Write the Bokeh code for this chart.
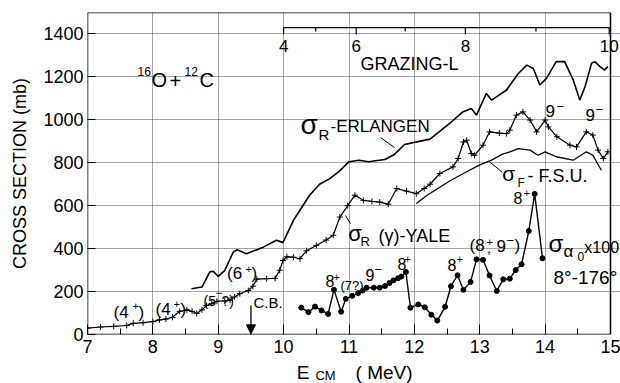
from bokeh.plotting import figure
from bokeh.layouts import column
from bokeh.models import Label, Arrow, NormalHead, FixedTicker, Range1d
from bokeh.embed import file_html
from bokeh.resources import INLINE

# ---------------- data ----------------
erl_E = [8.59, 8.75, 8.87, 8.92, 9.00, 9.10, 9.23, 9.29, 9.43, 9.69, 9.89, 9.99,
         10.15, 10.40, 10.55, 10.70, 10.85, 11.00, 11.15, 11.30, 11.55, 11.70,
         11.85, 12.00, 12.24, 12.54, 12.74, 12.87, 12.95, 13.10, 13.18, 13.41,
         13.59, 13.72, 13.82, 13.92, 14.02, 14.17, 14.30, 14.43, 14.53, 14.61,
         14.71, 14.76, 14.84, 14.91, 14.96]
erl_sigma = [213, 221, 291, 295, 271, 299, 384, 395, 376, 407, 439, 428,
             532, 650, 700, 725, 760, 805, 812, 805, 815, 840,
             885, 895, 910, 983, 1037, 1053, 1022, 1123, 1092, 1139,
             1216, 1255, 1239, 1162, 1193, 1271, 1271, 1185, 1092, 1154,
             1263, 1271, 1248, 1232, 1248]

yale_E = [7.00, 7.20, 7.40, 7.60, 7.70, 7.85, 8.00, 8.10, 8.20, 8.30, 8.41, 8.52,
          8.60, 8.67, 8.75, 8.82, 8.90, 8.98, 9.10, 9.18, 9.25, 9.33, 9.46, 9.53,
          9.59, 9.74, 9.87, 9.94, 9.99, 10.05, 10.15, 10.25, 10.35, 10.50, 10.65,
          10.76, 10.86, 10.98, 11.09, 11.22, 11.35, 11.47, 11.60, 11.73, 11.88,
          12.03, 12.15, 12.24, 12.39, 12.59, 12.67, 12.75, 12.80, 12.87, 12.92,
          13.05, 13.15, 13.30, 13.41, 13.46, 13.56, 13.66, 13.77, 13.87, 14.00,
          14.05, 14.18, 14.38, 14.48, 14.63, 14.73, 14.81, 14.89, 14.96]
yale_sigma = [30, 35, 38, 42, 52, 55, 60, 68, 72, 80, 108, 115,
              108, 98, 115, 135, 145, 155, 157, 160, 175, 190, 205, 225,
              258, 260, 262, 299, 345, 362, 360, 353, 390, 415, 440,
              462, 547, 600, 649, 625, 620, 617, 607, 680, 668,
              656, 680, 700, 750, 781, 820, 897, 905, 843, 835,
              882, 944, 938, 936, 952, 1022, 1037, 999, 944, 999,
              967, 921, 882, 874, 944, 929, 859, 820, 851]

fsu_E = [12.03, 12.20, 12.36, 12.54, 12.75, 13.00, 13.18, 13.35, 13.46, 13.59,
         13.77, 13.89, 14.00, 14.17, 14.43, 14.63, 14.73, 14.86]
fsu_sigma = [610, 650, 680, 715, 750, 790, 812, 840, 851, 866,
             859, 835, 851, 828, 812, 851, 835, 765]

alpha_E = [10.27, 10.38, 10.48, 10.58, 10.68, 10.77, 10.88, 10.95, 11.05, 11.14,
           11.21, 11.27, 11.38, 11.47, 11.55, 11.62, 11.68, 11.75, 11.80, 11.87,
           11.94, 12.06, 12.16, 12.26, 12.35, 12.47, 12.56, 12.66, 12.75, 12.86,
           12.95, 13.05, 13.15, 13.26, 13.36, 13.46, 13.55, 13.64, 13.75, 13.84,
           13.96]
alpha_sigma = [125, 104, 130, 112, 96, 208, 106, 166, 180, 193,
               205, 218, 218, 218, 226, 240, 252, 262, 270, 291,
               125, 140, 127, 92, 65, 129, 225, 276, 208, 245,
               350, 348, 275, 203, 257, 260, 300, 327, 482, 655,
               355]

x_ticks = [7, 8, 9, 10, 11, 12, 13, 14, 15]
y_ticks = [0, 200, 400, 600, 800, 1000, 1200, 1400]
y_top = 1500

grazing_L = [4, 5, 6, 7, 8, 9, 10]
grazing_L_E = [10.00, 10.49, 11.11, 11.86, 12.78, 13.86, 14.98]
grazing_L_labels = [4, 6, 8, 10]

cb_energy = 9.5

FONT = "Liberation Sans"

# ---------------- layout geometry ----------------
W = 620
H_MAIN, H_TITLE = 360, 23
BL, BT, BB = 87, 12, 26
FH = H_MAIN - BT - BB                      # frame height in px
px_per_mb = FH / y_top
px_per_MeV = 65.375
x_end = x_ticks[0] + (W - BL) / px_per_MeV  # frame reaches the right page edge

xr = Range1d(x_ticks[0], x_end)

p = figure(width=W, height=H_MAIN, x_range=xr, y_range=(0, y_top),
           output_backend="svg", toolbar_location=None,
           min_border_left=BL, min_border_right=0, min_border_top=BT,
           min_border_bottom=BB)
p.background_fill_color = "white"
p.border_fill_color = "white"
p.outline_line_color = None

# box of the plot (E = 7..15, sigma = 0..1500)
xa, xb = x_ticks[0], x_ticks[-1]
p.segment(x0=[xa, xa, xa, xb], y0=[0, y_top, 0, 0], x1=[xb, xb, xa, xb], y1=[0, y_top, y_top, y_top],
          line_color="black", line_width=1.5)

p.xaxis.ticker = FixedTicker(ticks=x_ticks, minor_ticks=[t + 0.5 for t in x_ticks[:-1]])
p.xaxis.major_tick_in = 10
p.xaxis.major_tick_out = 0
p.xaxis.minor_tick_in = 6
p.xaxis.minor_tick_out = 0
p.xaxis.major_label_standoff = 5
p.xaxis.axis_line_color = None
p.xaxis.major_tick_line_color = "black"
p.xaxis.minor_tick_line_color = "black"

p.yaxis.ticker = FixedTicker(ticks=y_ticks)
p.yaxis.major_tick_in = 8
p.yaxis.major_tick_out = 0
p.yaxis.minor_tick_line_color = None
p.yaxis.major_label_standoff = 4
p.yaxis.axis_line_color = None
p.yaxis.axis_label = "CROSS SECTION (mb)"
p.yaxis.axis_label_text_font = FONT
p.yaxis.axis_label_text_font_size = "18px"
p.yaxis.axis_label_text_font_style = "normal"
p.yaxis.axis_label_text_color = "black"
p.yaxis.axis_label_standoff = 10

for ax in (p.xaxis, p.yaxis):
    ax.major_label_text_font = FONT
    ax.major_label_text_font_size = "18px"
    ax.major_label_text_color = "black"

p.xgrid.ticker = FixedTicker(ticks=x_ticks)
p.ygrid.ticker = FixedTicker(ticks=y_ticks)
p.ygrid.bounds = (xa, xb)
for g in (p.xgrid, p.ygrid):
    g.grid_line_color = "#444444"
    g.grid_line_alpha = 0.6
    g.grid_line_width = 0.8

# ---------------- curves ----------------
p.line(erl_E, erl_sigma, line_color="black", line_width=1.6)
p.line(fsu_E, fsu_sigma, line_color="black", line_width=1.3)
p.line(yale_E, yale_sigma, line_color="black", line_width=1.2)
p.scatter(yale_E, yale_sigma, marker="cross", size=6, line_color="black", line_width=1)
p.line(alpha_E, alpha_sigma, line_color="black", line_width=1.4)
p.scatter(alpha_E, alpha_sigma, marker="circle", size=5, fill_color="black", line_color="black")

# ---------------- grazing-L bracket ----------------
gy, gy_major, gy_minor = 1430, 1397, 1411
p.segment(x0=[grazing_L_E[0]], y0=[gy], x1=[grazing_L_E[-1]], y1=[gy], line_color="black", line_width=1.2)
p.segment(x0=grazing_L_E, y0=[gy] * len(grazing_L_E), x1=grazing_L_E,
          y1=[gy_major if L % 2 == 0 else gy_minor for L in grazing_L],
          line_color="black", line_width=1.2)

# ---------------- leader lines ----------------
p.segment(x0=[11.482, 10.946, 13.158], y0=[917.6, 554, 802.5],
          x1=[11.696, 11.023, 13.343], y1=[871, 516, 756], line_color="black", line_width=1)

# ---------------- C.B. arrow ----------------
p.add_layout(Arrow(end=NormalHead(size=9, fill_color="black", line_color="black"),
                   x_start=cb_energy, y_start=135, x_end=cb_energy, y_end=3,
                   line_color="black", line_width=1.3))


def add_text(fig, t, x, y, s, align="left"):
    fig.add_layout(Label(x=x, y=y, text=t, text_font=FONT, text_font_size=f"{s}px",
                         text_align=align, text_baseline="middle", text_color="black"))


for L, e in zip(grazing_L, grazing_L_E):
    if L in grazing_L_labels:
        add_text(p, str(L), e, 1346, 17, align="center")

texts = [
    ("16", 7.765, 1225, 12), ("O", 7.979, 1185, 20), ("+", 8.254, 1183, 20),
    ("12", 8.484, 1225, 12), ("C", 8.713, 1185, 20),
    ("GRAZING-L", 11.176, 1258, 18),
    ("σ", 10.258, 980, 28), ("R", 10.533, 934, 15), ("-ERLANGEN", 10.717, 969, 17),
    ("σ", 10.99, 470, 22), ("R", 11.176, 432, 13), ("(γ)-YALE", 11.451, 459, 18),
    ("σ", 13.343, 751, 21), ("F", 13.577, 704, 12), ("- F.S.U.", 13.73, 740, 18),
    ("σ", 14.052, 422, 24), ("α", 14.281, 385, 17), ("0", 14.495, 363, 12),
    ("x100", 14.60, 406, 16), ("8°-176°", 14.128, 267, 19),
    ("8", 10.64, 247, 16), ("+", 10.763, 270, 11), ("(7?)", 10.87, 228, 13),
    ("9", 11.252, 279, 16), ("−", 11.39, 305, 13),
    ("8", 11.742, 329, 16), ("+", 11.849, 353, 11),
    ("8", 12.507, 323, 16), ("+", 12.645, 350, 11),
    ("(8", 12.843, 414, 17), ("+", 13.103, 433, 11), (",", 13.11, 403, 14),
    ("9", 13.256, 412, 17), ("−", 13.409, 440, 13), (")", 13.532, 414, 17),
    ("8", 13.516, 636, 16), ("+", 13.669, 657, 11),
    ("9", 14.006, 1039, 17), ("−", 14.174, 1064, 13),
    ("9", 14.617, 1021, 17), ("−", 14.775, 1049, 13),
    ("(4", 7.398, 104, 17), ("+", 7.688, 135, 11), (")", 7.78, 104, 17),
    ("(4", 8.04, 116, 17), ("+", 8.315, 143, 11), (")", 8.423, 116, 17),
    ("(5", 8.774, 158, 14), ("−", 8.958, 196, 12), ("?)", 9.05, 158, 14),
    ("(6", 9.135, 284, 17), ("+", 9.417, 307, 11), (")", 9.509, 284, 17),
    ("C.B.", 9.539, 147, 15),
]
for t, x, y, s in texts:
    add_text(p, t, x, y, s)

# ---------------- x-axis title strip (same E scale, sigma continued below 0) ----------------
strip_top = -BB / px_per_mb
strip_bottom = -(BB + H_TITLE) / px_per_mb
q = figure(width=W, height=H_TITLE, x_range=xr, y_range=(strip_bottom, strip_top),
           output_backend="svg", toolbar_location=None,
           min_border_left=BL, min_border_right=0, min_border_top=0, min_border_bottom=0)
q.outline_line_color = None
q.background_fill_color = "white"
q.border_fill_color = "white"
q.axis.visible = False
q.grid.visible = False
for t, x, y, s in [("E", 10.20, -174.7, 19), ("CM", 10.487, -193.3, 13), ("( MeV)", 11.10, -174.7, 19)]:
    add_text(q, t, x, y, s)

layout = column(p, q, spacing=0)
open("out.html", "w").write(file_html(layout, INLINE))
